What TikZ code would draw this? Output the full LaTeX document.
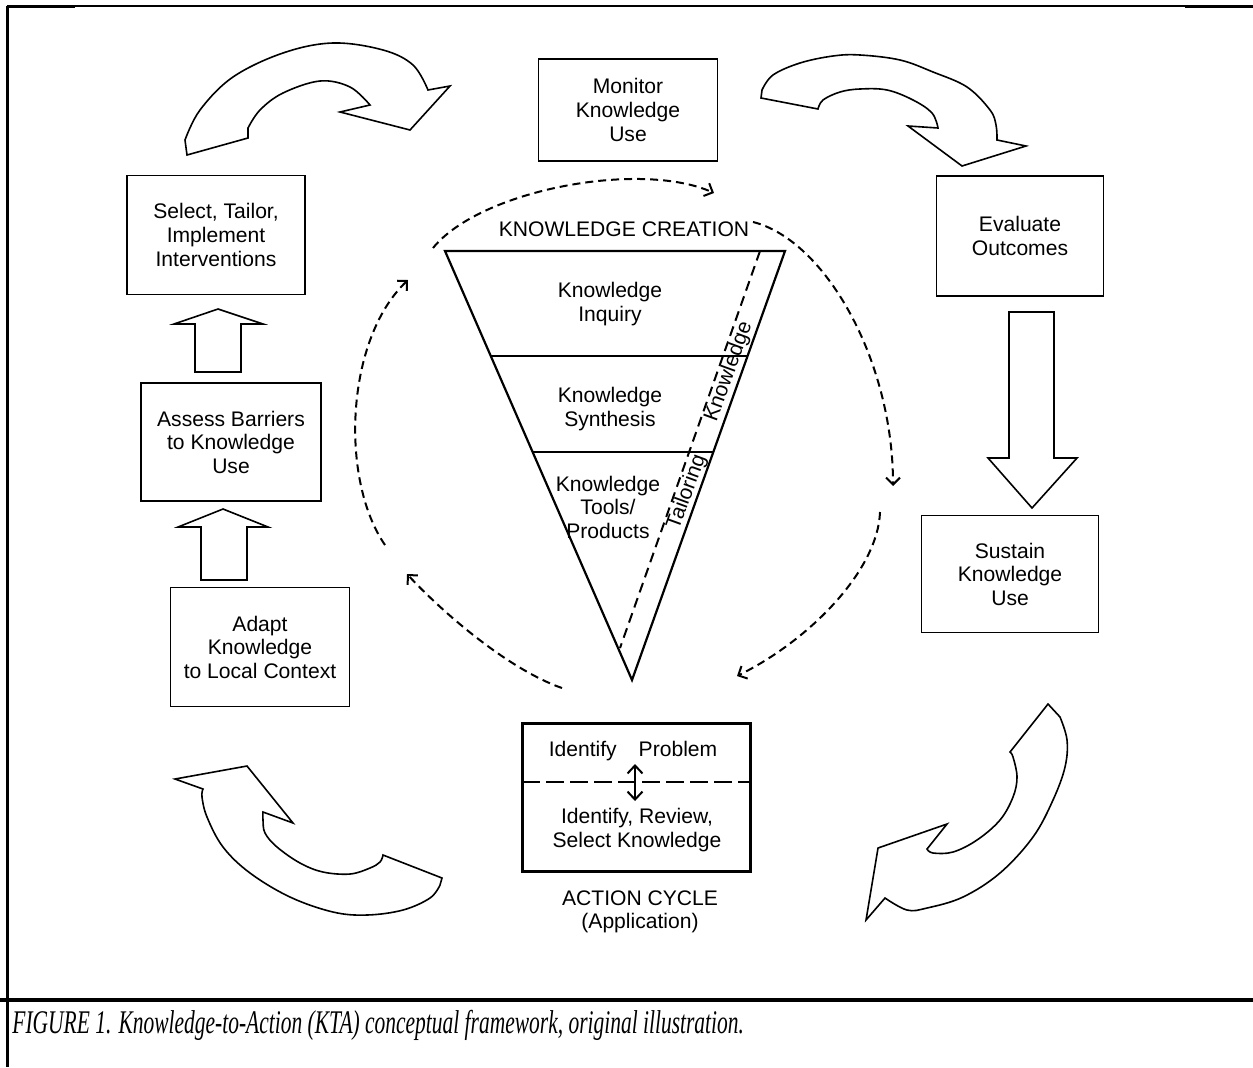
\documentclass[tikz,border=0pt]{standalone}
\usepackage{fontspec}
\setmainfont{Liberation Serif}
\setsansfont{Liberation Sans}
\usetikzlibrary{arrows.meta,calc}

\tikzset{
  box/.style={draw, line width=0.18mm, align=center, inner sep=0pt,
    font=\sffamily\fontsize{6}{6.7}\selectfont},
  lbl/.style={align=center, inner sep=0pt, font=\sffamily\fontsize{6}{6.7}\selectfont},
  hollow/.style={draw, line width=0.16mm, line join=miter},
  kcycle/.style={line width=0.2mm, dash pattern=on 0.8mm off 0.5mm,
    -{Straight Barb[length=0.7mm,width=1.4mm]}},
  barb/.tip={Straight Barb[length=0.8mm,width=1.5mm]},
}

\begin{document}
\begin{tikzpicture}[x=0.1mm, y=-0.1mm]
\useasboundingbox (0,0) rectangle (1253,1067);

% frame and caption
\draw[line width=0.3mm] (7,6) -- (7,1067);
\draw[line width=0.15mm] (7,6) -- (1253,6);
\draw[line width=0.3mm] (7,6) -- (75,6);
\draw[line width=0.3mm] (1185,6) -- (1253,6);
\draw[line width=0.4mm] (0,1000) -- (1253,1000);
\node[anchor=base west, inner sep=0pt, xscale=0.65,
  font=\itshape\fontsize{9.4}{11}\selectfont] (caption) at (12,1033)
  {FIGURE 1. Knowledge-to-Action (KTA) conceptual framework, original illustration.};

% action cycle boxes
\node[box, minimum width=17.9mm, minimum height=10.2mm] (monitor) at (628,110) {Monitor\\Knowledge\\Use};
\node[box, minimum width=17.8mm, minimum height=11.9mm] (select) at (216,235) {Select, Tailor,\\Implement\\Interventions};
\node[box, minimum width=16.7mm, minimum height=12mm] (evaluate) at (1020,236) {Evaluate\\Outcomes};
\node[box, minimum width=18mm, minimum height=11.8mm] (assess) at (231,442) {Assess Barriers\\to Knowledge\\Use};
\node[box, minimum width=17.9mm, minimum height=11.9mm] (adapt) at (260,647) {Adapt\\Knowledge\\to Local Context};
\node[box, minimum width=17.7mm, minimum height=11.7mm] (sustain) at (1010,574) {Sustain\\Knowledge\\Use};
\node[box, line width=0.3mm, minimum width=22.8mm, minimum height=14.8mm] (identify) at (636,797) {};

% inside the problem box
\node[lbl] (problem) at (633,751) {Identify\hspace{2.2mm}Problem};
\node[lbl] (review) at (637,830) {Identify, Review,\\Select Knowledge};
\coordinate (divl) at (522,782);
\coordinate (divr) at (750,782);
\draw[line width=0.18mm, dash pattern=on 1.8mm off 0.6mm] (divl) -- (divr);
\coordinate (pu) at (635,764);
\coordinate (pd) at (635,801);
\draw[line width=0.2mm, barb-barb] (pu) -- (pd);
\node[lbl] (action) at (640,912) {ACTION CYCLE\\(Application)};

% straight block arrows
\draw[hollow] (201,580) -- (201,527) -- (178,527) -- (223,509) -- (268,527) -- (247,527) -- (247,580) -- cycle;
\draw[hollow] (195,372) -- (195,324) -- (174,324) -- (218,309) -- (263,324) -- (241,324) -- (241,372) -- cycle;
\draw[hollow] (1009,312) -- (1009,458) -- (988,458) -- (1032,508) -- (1077,458) -- (1054,458) -- (1054,312) -- cycle;

% curved block arrows
\draw[hollow] (187,155) -- plot[smooth, tension=0.6] coordinates {(185,140) (200,110) (233,77) (283,53) (333,43) (383,50) (413,65) (428,90)}
  -- (450,86) -- (410,130) -- (340,112)
  -- plot[smooth, tension=0.6] coordinates {(370,105) (350,87) (320,81) (283,93) (260,110) (248,128)} -- (248,138) -- cycle;
\draw[hollow] (761,98) -- plot[smooth, tension=0.6] coordinates {(818,109) (823,100) (840,92) (860,89) (887,90) (913,100) (932,113) (938,128)}
  -- (908,126) -- (962,166) -- (1026,146)
  -- plot[smooth, tension=0.6] coordinates {(997,140) (996,125) (990,110) (967,87) (933,72) (900,60) (860,55) (833,56) (800,63) (773,75) (762,90)} -- cycle;
\draw[hollow] (1048,704) -- plot[smooth, tension=0.6] coordinates {(1010,752) (1013,757) (1017,777) (1013,797) (1000,820) (977,840) (953,852) (933,853) (927,849)}
  -- (947,824) -- (878,848) -- (866,920)
  -- plot[smooth, tension=0.6] coordinates {(885,898) (907,910) (927,908) (963,897) (1000,873) (1033,837) (1053,800) (1065,767) (1067,740) (1060,717)} -- cycle;
\draw[hollow] (175,779) -- (247,766) -- (293,823)
  -- plot[smooth, tension=0.6] coordinates {(263,812) (263,820) (265,833) (277,847) (300,863) (323,872) (350,874) (370,868) (380,862) (383,855)}
  -- (442,878)
  -- plot[smooth, tension=0.6] coordinates {(440,885) (430,898) (403,910) (367,915) (333,912) (290,897) (250,873) (223,847) (207,817) (202,797) (203,789)} -- cycle;

% knowledge creation funnel
\coordinate (ftl) at (445,251);
\coordinate (ftr) at (785,251);
\coordinate (ftip) at (632,680);
\draw[line width=0.22mm, line join=miter] (ftl) -- (ftr) -- (ftip) -- cycle;
\draw[line width=0.22mm] ($(ftl)!0.245!(ftip)$) -- ($(ftr)!0.245!(ftip)$);
\draw[line width=0.22mm] ($(ftl)!0.4685!(ftip)$) -- ($(ftr)!0.4685!(ftip)$);
\draw[line width=0.2mm, dash pattern=on 1mm off 0.6mm] (760,251) -- (620,648);
\node[lbl] (kc) at (624,229) {KNOWLEDGE CREATION};
\node[lbl] (inquiry) at (610,304) {Knowledge\\Inquiry};
\node[lbl] (synthesis) at (610,409) {Knowledge\\Synthesis};
\node[lbl] (tools) at (608,507) {Knowledge\\Tools/\\Products};
\node[lbl, rotate=70] (kside) at (729,372) {Knowledge};
\node[lbl, rotate=70] (tside) at (687,492) {Tailoring};

% dashed cycle round the funnel
\coordinate (c1s) at (433,248); \coordinate (c1e) at (714,193);
\coordinate (c2s) at (753,222); \coordinate (c2e) at (893,486);
\coordinate (c3s) at (880,512); \coordinate (c3e) at (737,676);
\coordinate (c4s) at (562,688); \coordinate (c4e) at (407,574);
\coordinate (c5s) at (385,545); \coordinate (c5e) at (408,280);
\draw[kcycle] (c1s) .. controls (480,190) and (640,160) .. (c1e);
\draw[kcycle] (c2s) .. controls (825,240) and (893,360) .. (c2e);
\draw[kcycle] (c3s) .. controls (878,570) and (810,640) .. (c3e);
\draw[kcycle] (c4s) .. controls (510,670) and (445,615) .. (c4e);
\draw[kcycle] (c5s) .. controls (340,480) and (345,340) .. (c5e);
\end{tikzpicture}
\end{document}
